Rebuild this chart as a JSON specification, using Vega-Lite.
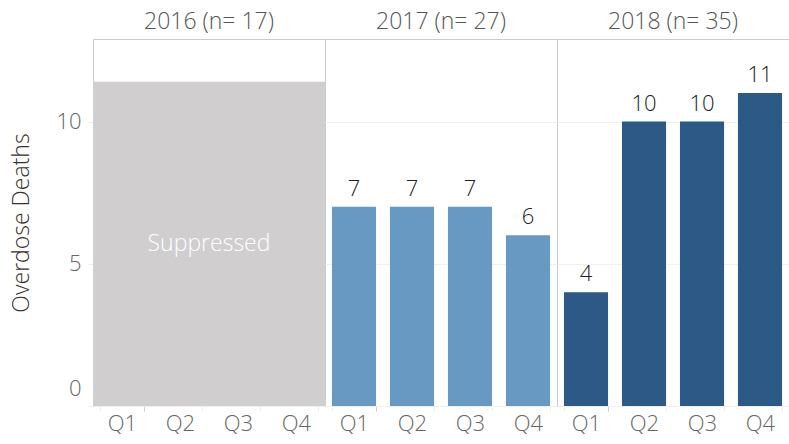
{
  "$schema": "https://vega.github.io/schema/vega-lite/v6.json",
  "padding": {"left": 10, "top": 11, "right": 0, "bottom": 0},
  "background": "white",
  "bounds": "flush",
  "data": {
    "values": [
      {"year": "2016 (n= 17)", "quarter": "Q1", "deaths": null, "suppressed": 11.4, "label": "Suppressed"},
      {"year": "2016 (n= 17)", "quarter": "Q2", "deaths": null, "suppressed": null, "label": null},
      {"year": "2016 (n= 17)", "quarter": "Q3", "deaths": null, "suppressed": null, "label": null},
      {"year": "2016 (n= 17)", "quarter": "Q4", "deaths": null, "suppressed": null, "label": null},
      {"year": "2017 (n= 27)", "quarter": "Q1", "deaths": 7, "suppressed": null, "label": null},
      {"year": "2017 (n= 27)", "quarter": "Q2", "deaths": 7, "suppressed": null, "label": null},
      {"year": "2017 (n= 27)", "quarter": "Q3", "deaths": 7, "suppressed": null, "label": null},
      {"year": "2017 (n= 27)", "quarter": "Q4", "deaths": 6, "suppressed": null, "label": null},
      {"year": "2018 (n= 35)", "quarter": "Q1", "deaths": 4, "suppressed": null, "label": null},
      {"year": "2018 (n= 35)", "quarter": "Q2", "deaths": 10, "suppressed": null, "label": null},
      {"year": "2018 (n= 35)", "quarter": "Q3", "deaths": 10, "suppressed": null, "label": null},
      {"year": "2018 (n= 35)", "quarter": "Q4", "deaths": 11, "suppressed": null, "label": null}
    ]
  },
  "spacing": 0,
  "facet": {
    "column": {
      "field": "year",
      "type": "nominal",
      "title": null,
      "header": {
        "labelFont": "Open Sans",
        "labelFontWeight": 300,
        "labelFontSize": 23,
        "labelColor": "#555555",
        "labelPadding": 5
      }
    }
  },
  "spec": {
    "width": 232,
    "height": 367,
    "layer": [
      {
        "transform": [{"filter": "datum.deaths != null"}],
        "mark": {"type": "bar"},
        "encoding": {
          "x": {
            "field": "quarter",
            "type": "nominal",
            "scale": {"domain": ["Q1", "Q2", "Q3", "Q4"], "paddingInner": 0.24, "paddingOuter": 0.12},
            "axis": {
              "title": null,
              "labelAngle": 0,
              "labelFont": "Open Sans",
              "labelFontWeight": 300,
              "labelFontSize": 22,
              "labelColor": "#666666",
              "labelPadding": 2,
              "tickBand": "extent",
              "tickColor": {"condition": {"test": "datum.value === 'Q1'", "value": "#cccccc"}, "value": "#eeeeee"},
              "tickSize": 5,
              "domain": false,
              "grid": false
            }
          },
          "y": {
            "field": "deaths",
            "type": "quantitative",
            "scale": {"domain": [0, 12.9], "nice": false, "zero": true},
            "axis": {
              "title": "Overdose Deaths",
              "titleFont": "Open Sans",
              "titleFontWeight": 300,
              "titleFontSize": 23,
              "titleColor": "#333333",
              "titlePadding": 22,
              "labelFont": "Open Sans",
              "labelFontWeight": 300,
              "labelFontSize": 22,
              "labelColor": "#666666",
              "labelPadding": 7,
              "labelFlush": true,
              "labelFlushOffset": -6,
              "tickColor": "#eeeeee",
              "tickSize": 5,
              "domain": false,
              "grid": true,
              "gridColor": "#f0f0f0",
              "values": [0, 5, 10]
            }
          },
          "color": {
            "field": "year",
            "type": "nominal",
            "scale": {"domain": ["2017 (n= 27)", "2018 (n= 35)"], "range": ["#6799c3", "#2c5985"]},
            "legend": null
          }
        }
      },
      {
        "transform": [{"filter": "datum.suppressed != null"}],
        "mark": {"type": "rect", "color": "#d0cecf"},
        "encoding": {
          "y": {"field": "suppressed", "type": "quantitative"},
          "y2": {"datum": 0}
        }
      },
      {
        "transform": [{"filter": "datum.suppressed != null"}],
        "mark": {"type": "text", "color": "#ffffff", "font": "Open Sans", "fontWeight": 300, "fontSize": 23, "baseline": "middle"},
        "encoding": {
          "y": {"datum": 5.7, "type": "quantitative"},
          "text": {"field": "label"}
        }
      },
      {
        "transform": [{"filter": "datum.deaths != null"}],
        "mark": {"type": "text", "color": "#222222", "font": "Open Sans", "fontWeight": 300, "fontSize": 22, "baseline": "bottom", "dy": -6},
        "encoding": {
          "x": {"field": "quarter", "type": "nominal"},
          "y": {"field": "deaths", "type": "quantitative"},
          "text": {"field": "deaths"}
        }
      }
    ]
  },
  "resolve": {"scale": {"x": "shared", "y": "shared"}},
  "config": {
    "view": {"stroke": "#cccccc", "strokeWidth": 1}
  }
}
